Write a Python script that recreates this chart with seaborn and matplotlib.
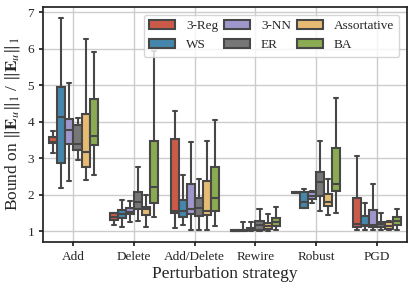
import numpy as np
import pandas as pd
import matplotlib
matplotlib.use("Agg")
import matplotlib.pyplot as plt
import seaborn as sns

strategies = ["Add", "Delete", "Add/Delete", "Rewire", "Robust", "PGD"]
graphs = ["3-Reg", "WS", "3-NN", "ER", "Assortative", "BA"]
colors = ["#E24A33", "#348ABD", "#988ED5", "#777777", "#FBC15E", "#8EBA42"]

# five-number summaries: [low whisker, q1, median, q3, high whisker]
# one row per graph type, in the order of `strategies`
reg3 = [[3.15, 3.42, 3.45, 3.58, 3.75],
        [1.17, 1.31, 1.40, 1.49, 1.49],
        [1.10, 1.49, 1.54, 3.53, 4.30],
        [1.00, 1.00, 1.01, 1.02, 1.02],
        [2.04, 2.05, 2.05, 2.06, 2.06],
        [1.04, 1.12, 1.20, 1.92, 3.07]]
ws = [[2.17, 2.87, 4.13, 4.96, 6.85],
      [1.12, 1.37, 1.46, 1.57, 1.85],
      [1.17, 1.40, 1.55, 1.85, 2.53],
      [1.00, 1.01, 1.02, 1.04, 1.24],
      [1.63, 1.63, 1.81, 2.08, 2.15],
      [1.04, 1.13, 1.18, 1.42, 1.76]]
nn3 = [[2.37, 3.39, 3.77, 4.07, 5.06],
       [1.26, 1.46, 1.53, 1.63, 1.82],
       [1.03, 1.46, 1.61, 2.30, 3.44],
       [1.00, 1.02, 1.05, 1.08, 1.26],
       [1.76, 1.88, 1.97, 2.06, 2.09],
       [1.04, 1.11, 1.17, 1.58, 2.30]]
er = [[2.95, 3.23, 3.39, 3.92, 4.10],
      [1.28, 1.61, 1.81, 2.06, 2.75],
      [1.03, 1.41, 1.64, 1.90, 2.42],
      [1.00, 1.04, 1.17, 1.28, 1.60],
      [1.55, 1.97, 2.35, 2.62, 3.48],
      [1.04, 1.11, 1.19, 1.26, 1.51]]
assort = [[2.39, 2.76, 3.17, 4.21, 6.27],
          [1.12, 1.44, 1.60, 1.67, 1.99],
          [1.03, 1.43, 1.55, 2.37, 3.48],
          [1.00, 1.05, 1.13, 1.22, 1.46],
          [1.44, 1.70, 1.79, 2.01, 2.42],
          [1.02, 1.05, 1.15, 1.26, 1.28]]
ba = [[2.55, 3.36, 3.62, 4.62, 5.92],
      [1.38, 1.77, 2.21, 3.48, 5.93],
      [1.15, 1.56, 1.92, 2.77, 4.05],
      [1.03, 1.13, 1.26, 1.35, 1.65],
      [1.51, 2.11, 2.30, 3.27, 4.64],
      [1.04, 1.17, 1.28, 1.40, 1.61]]

summaries = [reg3, ws, nn3, er, assort, ba]

rows = []
for g, summ in zip(graphs, summaries):
    for s, vals in zip(strategies, summ):
        for v in vals:
            rows.append({"Strategy": s, "Graph": g, "Bound": v})
df = pd.DataFrame(rows)

sns.set_theme(style="whitegrid")
plt.rcParams["font.family"] = ["Liberation Serif", "DejaVu Serif"]
plt.rcParams["mathtext.fontset"] = "stix"
plt.rcParams["axes.edgecolor"] = "#222222"
plt.rcParams["xtick.bottom"] = True
plt.rcParams["ytick.left"] = True

fig, ax = plt.subplots(figsize=(4.15, 2.9), dpi=100)
sns.boxplot(data=df, x="Strategy", y="Bound", hue="Graph", order=strategies,
            hue_order=graphs, palette=colors, whis=(0, 100), linewidth=1.5,
            fliersize=0, ax=ax)

ax.set_xlabel("Perturbation strategy", fontsize=12.5, labelpad=2)
ax.set_ylabel(r"Bound on $\|\mathbf{E}_u\|_1$ / $\|\mathbf{E}_u\|_1$", fontsize=12.5)
ax.tick_params(axis="both", labelsize=9.5, length=3, color="#222222")
ax.set_yticks(range(1, 8))
ax.grid(True, color="#cccccc", linewidth=1)
ax.legend(title=None, ncol=3, loc="upper right", fontsize=9.5,
          handlelength=2.0, handletextpad=0.8, columnspacing=0.45,
          borderaxespad=0.6)

fig.subplots_adjust(left=0.104, right=0.981, top=0.976, bottom=0.166)
fig.savefig("out.png", dpi=100)
